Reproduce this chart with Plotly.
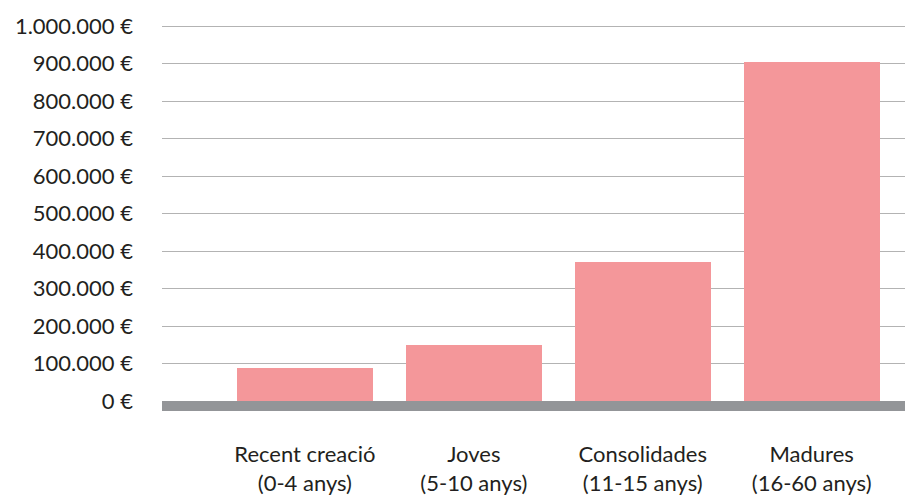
import plotly.graph_objects as go

categories = ["Recent creació<br>(0-4 anys)", "Joves<br>(5-10 anys)",
              "Consolidades<br>(11-15 anys)", "Madures<br>(16-60 anys)"]
values = [88000, 149000, 371000, 904000]
y_ticks = list(range(0, 1000001, 100000))
y_labels = [f"{v:,}".replace(",", ".") + " €" for v in y_ticks]

x_pos = list(range(len(categories)))

fig = go.Figure()
fig.add_trace(go.Bar(
    x=x_pos, y=values,
    width=0.805,
    marker=dict(color="#F4979A", line=dict(width=0)),
    hovertemplate="%{y:,.0f} €<extra></extra>",
))

# thick grey baseline under the bars
fig.add_shape(type="rect", xref="paper", x0=0, x1=1, yref="y",
              y0=0, y1=-26700, fillcolor="#939598", line=dict(width=0),
              layer="above")

# the page body adds an 8px margin, so the figure is sized to fit the window
fig.update_layout(
    width=905, height=492,
    margin=dict(l=154, r=0, t=12, b=88),
    plot_bgcolor="white", paper_bgcolor="white",
    font=dict(family="Lato", size=22, color="#231F20"),
    showlegend=False,
    bargap=0,
    xaxis=dict(
        range=[-0.846, 3.6],
        tickvals=x_pos, ticktext=categories,
        ticks="outside", ticklen=23, tickcolor="rgba(0,0,0,0)",
        showgrid=False, zeroline=False, showline=False,
        automargin=False,
    ),
    yaxis=dict(
        range=[-29300, 1016000],
        tickvals=y_ticks, ticktext=y_labels,
        ticklabelstandoff=28,
        showgrid=True, gridcolor="#B3B3B3", gridwidth=1.2,
        zeroline=False, showline=False,
        automargin=False,
    ),
)

fig.write_html("out.html")
